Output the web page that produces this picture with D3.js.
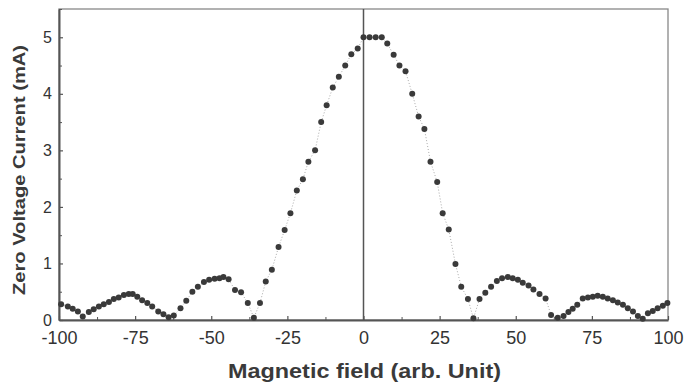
<!DOCTYPE html>
<html>
<head>
<meta charset="utf-8">
<script src="https://cdn.jsdelivr.net/npm/d3@7"></script>
<style>
  html, body { margin: 0; padding: 0; background: #fff; }
  svg { display: block; }
  text { font-family: "Liberation Sans", Arial, sans-serif; }
</style>
</head>
<body>
<svg id="chart" width="687" height="387"></svg>
<script>
// Data
const fieldValues = [
  -99.3, -97.1, -95.5, -93.8, -92.2, -90.2, -88.6, -86.9, -85.3, -83.6, -82.0, -80.4, -78.7, -77.1, -75.8,
  -74.3, -72.7, -71.0, -69.4, -67.4, -65.7, -64.0, -62.3, -60.1, -58.2, -56.2, -54.4, -52.4, -50.7, -48.9,
  -47.3, -46.0, -44.3, -42.2, -40.2, -38.0, -36.0, -34.0, -32.1, -30.1, -27.9, -25.9, -24.0, -21.9, -19.9,
  -18.1, -15.9, -13.9, -12.1, -10.1, -8.1, -6.0, -4.0, -1.9, 0, 2, 4, 6, 7.8, 9.9, 11.8, 13.8, 16.0, 18.1,
  20.0, 22.0, 24.2, 26.0, 28.0, 30.2, 32.1, 34.3, 36.1, 38.1, 40.0, 41.9, 43.8, 45.5, 47.4, 49.0, 50.7,
  52.3, 54.2, 55.8, 57.8, 59.8, 61.6, 63.8, 65.7, 67.3, 68.7, 70.2, 72.0, 73.7, 75.3, 76.9, 78.6, 80.2,
  81.9, 83.5, 85.2, 86.8, 88.5, 90.1, 91.7, 93.4, 95.0, 96.6, 98.3, 99.8
];
const currentValues = [
  0.28, 0.24, 0.20, 0.15, 0.06, 0.14, 0.19, 0.24, 0.28, 0.32, 0.37, 0.40, 0.44, 0.46, 0.46,
  0.41, 0.35, 0.30, 0.24, 0.15, 0.10, 0.05, 0.08, 0.21, 0.34, 0.50, 0.59, 0.67, 0.71, 0.73,
  0.74, 0.76, 0.72, 0.53, 0.49, 0.30, 0.04, 0.30, 0.68, 0.89, 1.29, 1.59, 1.89, 2.29, 2.49,
  2.80, 3.00, 3.50, 3.80, 4.11, 4.30, 4.50, 4.70, 4.80, 5.0, 5.0, 5.0, 5.0, 4.89, 4.69, 4.50, 4.40, 4.00, 3.60,
  3.38, 2.80, 2.44, 1.89, 1.60, 0.99, 0.59, 0.37, 0.03, 0.37, 0.48, 0.59, 0.69, 0.74, 0.76, 0.74, 0.71,
  0.66, 0.61, 0.54, 0.46, 0.38, 0.09, 0.04, 0.07, 0.14, 0.20, 0.27, 0.38, 0.40, 0.41, 0.43, 0.41, 0.38,
  0.35, 0.31, 0.27, 0.21, 0.15, 0.07, 0.02, 0.12, 0.16, 0.21, 0.25, 0.30
];
const xTickValues = [-100, -75, -50, -25, 0, 25, 50, 75, 100];
const xMinorTicks = [-87.5, -62.5, -37.5, -12.5, 12.5, 37.5, 62.5, 87.5];
const yTickValues = [0, 1, 2, 3, 4, 5];
const yMinorTicks = [0.5, 1.5, 2.5, 3.5, 4.5, 5.5];
const xTitle = "Magnetic field (arb. Unit)";
const yTitle = "Zero Voltage Current (mA)";

const data = fieldValues.map((x, i) => ({ x, y: currentValues[i] }));

const svg = d3.select("#chart");
const margin = { left: 59, right: 19, top: 9, bottom: 67 };
const W = 687, H = 387;

const x = d3.scaleLinear().domain([-100, 100]).range([margin.left, W - margin.right]);
const y = d3.scaleLinear().domain([0, 5.5]).range([H - margin.bottom, margin.top]);

const axisColor = "#555";
const textColor = "#333";

// Frame (top and right)
svg.append("rect")
  .attr("x", x(-100)).attr("y", y(5.5))
  .attr("width", x(100) - x(-100)).attr("height", y(0) - y(5.5))
  .attr("fill", "none").attr("stroke", "#888").attr("stroke-width", 1.3);

// Vertical line at x = 0
svg.append("line")
  .attr("x1", x(0)).attr("x2", x(0))
  .attr("y1", y(5.5)).attr("y2", y(0))
  .attr("stroke", "#555").attr("stroke-width", 1.5);

// Bottom axis
const xAxis = d3.axisBottom(x).tickValues(xTickValues).tickSizeInner(-4).tickSizeOuter(0).tickPadding(10)
  .tickFormat(d3.format("d"));
const gx = svg.append("g").attr("transform", `translate(0,${y(0)})`).call(xAxis);
gx.select(".domain").attr("stroke", axisColor).attr("stroke-width", 2);
gx.selectAll(".tick line").attr("stroke", axisColor).attr("stroke-width", 1.2);
gx.selectAll(".tick text")
  .attr("fill", textColor).attr("font-size", 18)
  .attr("font-family", "Liberation Sans, Arial, sans-serif")
  .attr("y", 11).attr("dy", "0.71em")
  .text(d => d < 0 ? "-" + Math.abs(d) : d);
const gxm = svg.append("g").attr("transform", `translate(0,${y(0)})`)
  .call(d3.axisBottom(x).tickValues(xMinorTicks).tickSizeInner(-3).tickSizeOuter(0).tickFormat(""));
gxm.select(".domain").remove();
gxm.selectAll(".tick line").attr("stroke", axisColor).attr("stroke-width", 1);

// Left axis
const yAxis = d3.axisLeft(y).tickValues(yTickValues).tickSizeInner(-4).tickSizeOuter(0).tickPadding(8)
  .tickFormat(d3.format("d"));
const gy = svg.append("g").attr("transform", `translate(${x(-100)},0)`).call(yAxis);
gy.select(".domain").attr("stroke", axisColor).attr("stroke-width", 2);
gy.selectAll(".tick line").attr("stroke", axisColor).attr("stroke-width", 1.2);
gy.selectAll(".tick text")
  .attr("fill", textColor).attr("font-size", 16)
  .attr("font-family", "Liberation Sans, Arial, sans-serif")
  .attr("x", -7);
const gym = svg.append("g").attr("transform", `translate(${x(-100)},0)`)
  .call(d3.axisLeft(y).tickValues(yMinorTicks).tickSizeInner(-3).tickSizeOuter(0).tickFormat(""));
gym.select(".domain").remove();
gym.selectAll(".tick line").attr("stroke", axisColor).attr("stroke-width", 1);

// Thin dotted connecting line
const line = d3.line().x(d => x(d.x)).y(d => y(d.y));
svg.append("path")
  .datum(data)
  .attr("d", line)
  .attr("fill", "none")
  .attr("stroke", "#aaa")
  .attr("stroke-width", 1)
  .attr("stroke-dasharray", "1,2");

// Markers
svg.append("g").selectAll("circle")
  .data(data)
  .join("circle")
  .attr("cx", d => x(d.x))
  .attr("cy", d => y(d.y))
  .attr("r", 3)
  .attr("fill", "#3a3a3a");

// Titles
svg.append("text")
  .attr("x", (x(-100) + x(100)) / 2 + 1)
  .attr("y", 378)
  .attr("text-anchor", "middle")
  .attr("font-size", 21)
  .attr("font-weight", "bold")
  .attr("fill", "#3a3a3a")
  .attr("textLength", 273)
  .attr("lengthAdjust", "spacingAndGlyphs")
  .text(xTitle);

svg.append("text")
  .attr("transform", "translate(25,170) rotate(-90)")
  .attr("text-anchor", "middle")
  .attr("font-size", 16)
  .attr("font-weight", "bold")
  .attr("fill", "#3a3a3a")
  .attr("textLength", 250)
  .attr("lengthAdjust", "spacingAndGlyphs")
  .text(yTitle);
</script>
</body>
</html>
